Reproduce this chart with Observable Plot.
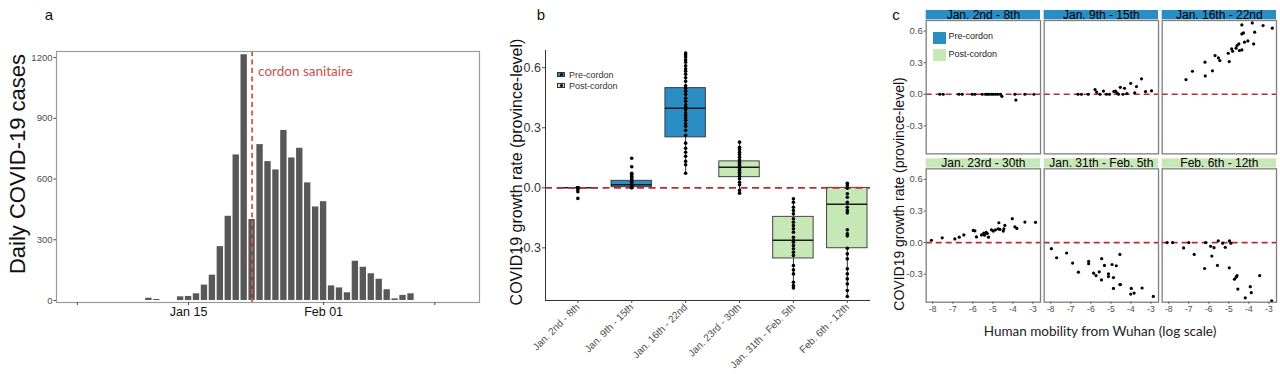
<!DOCTYPE html>
<html><head><meta charset="utf-8">
<script src="https://cdn.jsdelivr.net/npm/d3@7"></script>
<script src="https://cdn.jsdelivr.net/npm/@observablehq/plot@0.6"></script>
<style>
html,body{margin:0;padding:0;background:#fff;}
#root{position:relative;width:1280px;height:374px;overflow:hidden;font-family:"Liberation Sans",Arial,sans-serif;}
.panel{position:absolute;top:0;}
.lbl{position:absolute;white-space:nowrap;line-height:1;color:#111;}
.rot{transform:translate(-50%,-50%) rotate(-90deg);}
.ctr{transform:translate(-50%,-50%);}
</style></head><body><div id="root"></div><script>
// ---------- Panel a data ----------
const caseDates = ["2020-01-10","2020-01-11","2020-01-14","2020-01-15","2020-01-16","2020-01-17","2020-01-18","2020-01-19","2020-01-20","2020-01-21","2020-01-22","2020-01-23","2020-01-24","2020-01-25","2020-01-26","2020-01-27","2020-01-28","2020-01-29","2020-01-30","2020-01-31","2020-02-01","2020-02-02","2020-02-03","2020-02-04","2020-02-05","2020-02-06","2020-02-07","2020-02-08","2020-02-09","2020-02-10","2020-02-11","2020-02-12"];
const caseCounts = [11,5,18,20,33,76,125,266,416,719,1214,400,770,686,645,840,704,752,581,462,488,72,62,38,194,164,132,105,53,8,25,33];
const cordonDate = "2020-01-23";
const cordonLabel = "cordon sanitaire";
const cordonLabelLevel = 1130;
const caseTickDates = ["2020-01-01","2020-01-15","2020-02-01","2020-02-15"];
const caseTickLabels = ["","Jan 15","Feb 01",""];
const caseYTicks = [0,300,600,900,1200];

// ---------- Panel b data ----------
const periods = ["Jan. 2nd - 8th","Jan. 9th - 15th","Jan. 16th - 22nd","Jan. 23rd - 30th","Jan. 31th - Feb. 5th","Feb. 6th - 12th"];
const periodGroup = ["Pre-cordon","Pre-cordon","Pre-cordon","Post-cordon","Post-cordon","Post-cordon"];
const boxQ1 = [0,0.003,0.252,0.053,-0.353,-0.302];
const boxMedian = [0,0.015,0.397,0.103,-0.262,-0.082];
const boxQ3 = [0,0.035,0.498,0.132,-0.145,0.0];
const boxLow = [0,0,0.073,-0.027,-0.5,-0.543];
const boxHigh = [0,0.073,0.673,0.228,-0.055,0.023];
const rates1 = [0,0,0,0,0,0,-0.01,-0.02,-0.053];
const rates2 = [0.148,0.105,0.073,0.067,0.058,0.05,0.042,0.033,0.025,0.017,0.01,0.003,0,0];
const rates3 = [0.673,0.665,0.653,0.64,0.627,0.61,0.595,0.582,0.567,0.55,0.532,0.51,0.497,0.483,0.467,0.448,0.432,0.415,0.403,0.39,0.375,0.362,0.35,0.337,0.32,0.307,0.287,0.262,0.223,0.198,0.178,0.158,0.133,0.115,0.073];
const rates4 = [0.228,0.203,0.192,0.178,0.167,0.153,0.14,0.128,0.12,0.112,0.103,0.095,0.087,0.078,0.07,0.058,0.045,0.028,0.015,-0.013,-0.027];
const rates5 = [-0.055,-0.072,-0.097,-0.113,-0.13,-0.155,-0.172,-0.188,-0.205,-0.222,-0.247,-0.263,-0.272,-0.288,-0.305,-0.322,-0.338,-0.388,-0.41,-0.43,-0.472,-0.488,-0.5];
const rates6 = [0.023,0.012,-0.002,-0.03,-0.047,-0.072,-0.097,-0.113,-0.125,-0.21,-0.23,-0.24,-0.302,-0.33,-0.355,-0.405,-0.43,-0.455,-0.48,-0.513,-0.543];
const rateTicks = [-0.3,0,0.3,0.6];

// ---------- Panel c data ----------
const mobility1 = [-7.65,-7.48,-6.7,-6.53,-6.03,-5.9,-5.53,-5.37,-5.28,-5.2,-5.08,-4.98,-4.87,-4.75,-4.62,-4.55,-3.9,-3.85,-3.4,-2.95];
const growth1 = [0,0,0,0,0,0,0,0,0,0,0,0,0,0,0,-0.02,0,-0.055,0,0];
const mobility2 = [-6.64,-6.47,-6.13,-5.79,-5.71,-5.54,-5.37,-5.22,-5.07,-4.85,-4.77,-4.7,-4.62,-4.53,-4.4,-4.32,-4.2,-4.01,-3.81,-3.72,-3.47,-3.27,-2.97];
const growth2 = [0,0,0,0.044,0.02,0,0.03,0,0,0.025,0.03,0.013,0,0.066,0,0.057,0.006,0.104,0.013,0.073,0.146,0.025,0.032];
const mobility3 = [-7.14,-6.82,-6.19,-6.18,-5.82,-5.69,-5.52,-5.45,-5.03,-4.98,-4.86,-4.81,-4.64,-4.59,-4.5,-4.47,-4.35,-4.35,-4.35,-4.27,-4.22,-4.05,-3.83,-3.76,-3.71,-3.29,-2.83];
const growth3 = [0.139,0.218,0.304,0.174,0.222,0.367,0.345,0.32,0.389,0.31,0.43,0.408,0.437,0.462,0.478,0.415,0.421,0.573,0.658,0.582,0.494,0.506,0.677,0.478,0.589,0.652,0.627];
const mobility4 = [-8.07,-7.53,-6.9,-6.68,-6.45,-5.98,-5.9,-5.82,-5.57,-5.45,-5.42,-5.33,-5.28,-5.22,-5.07,-4.98,-4.87,-4.73,-4.7,-4.65,-4.48,-4.45,-4.4,-4.03,-3.9,-3.8,-3.4,-2.87];
const growth4 = [0.022,0.045,0.035,0.051,0.073,0.115,0.112,0.054,0.073,0.089,0.07,0.096,0.086,0.051,0.121,0.109,0.121,0.131,0.188,0.125,0.109,0.131,0.163,0.227,0.15,0.134,0.195,0.192];
const mobility5 = [-7.97,-7.71,-7.21,-6.91,-6.62,-6.11,-6.11,-5.86,-5.74,-5.58,-5.47,-5.46,-5.32,-5.12,-5.12,-4.94,-4.87,-4.87,-4.73,-4.55,-4.52,-4.55,-3.98,-4.01,-3.84,-3.44,-2.88];
const growth5 = [-0.058,-0.144,-0.099,-0.195,-0.281,-0.179,-0.201,-0.29,-0.313,-0.278,-0.355,-0.153,-0.217,-0.323,-0.297,-0.208,-0.332,-0.435,-0.22,-0.399,-0.399,-0.112,-0.435,-0.489,-0.479,-0.431,-0.511];
const mobility6 = [-8.08,-7.81,-7.26,-7.0,-6.73,-6.21,-6.16,-5.91,-5.85,-5.74,-5.57,-5.53,-5.31,-5.18,-4.98,-4.97,-4.9,-4.72,-4.64,-4.59,-4.55,-4.18,-3.93,-3.88,-3.46,-2.86];
const growth6 = [0,0,-0.051,0,-0.112,-0.246,0,-0.035,-0.128,-0.048,-0.217,0.016,-0.006,-0.045,-0.24,0.016,-0.006,-0.348,-0.329,-0.313,-0.441,-0.524,-0.419,-0.476,-0.313,-0.553];
const mobilityTicks = [-8,-7,-6,-5,-4,-3];
const legendLabels = ["Pre-cordon","Post-cordon"];

// ---------- styling ----------
const BLUE = "#2a8dc4", GREEN = "#c6e8b6", RED_A = "#d9534f", RED = "#be2a33";
const groupColor = {"Pre-cordon": BLUE, "Post-cordon": GREEN};
const root = document.getElementById("root");
const utc = s => new Date(s + "T00:00:00Z");
const DAY = 864e5;

function place(el, left) { el.classList.add("panel"); el.style.left = left + "px"; root.appendChild(el); }
function label(text, x, y, css, cls) {
  const d = document.createElement("div");
  d.className = "lbl " + (cls || "");
  d.textContent = text;
  d.style.left = x + "px"; d.style.top = y + "px";
  Object.assign(d.style, css || {});
  root.appendChild(d);
  return d;
}

// ---------- Panel a ----------
const cases = caseDates.map((d, i) => ({date: utc(d), count: caseCounts[i]}));
const tickMap = new Map(caseTickDates.map((d, i) => [+utc(d), caseTickLabels[i]]));
const chartA = Plot.plot({
  width: 480, height: 374,
  marginLeft: 56, marginRight: 1, marginTop: 51, marginBottom: 72,
  style: {fontFamily: '"Liberation Sans", Arial, sans-serif', color: "#4d4d4d", background: "transparent", overflow: "visible"},
  x: {type: "utc", domain: [new Date(Date.UTC(2019, 11, 29, 9)), new Date(Date.UTC(2020, 1, 20, 15))]},
  y: {domain: [-10, 1230]},
  marks: [
    Plot.rectY(cases, {x1: d => new Date(+d.date - 0.4 * DAY), x2: d => new Date(+d.date + 0.4 * DAY), y: "count", fill: "#585858"}),
    Plot.ruleX([utc(cordonDate)], {stroke: RED_A, strokeDasharray: "5,3.5", strokeWidth: 1.8}),
    Plot.text([cordonLabel], {x: utc(cordonDate), y: cordonLabelLevel, text: d => d, dx: 6, textAnchor: "start", fill: "#c8514b", fontFamily: "Lato, 'Open Sans', sans-serif", fontSize: 13.5}),
    Plot.frame({stroke: "#9a9a9a", strokeWidth: 1.2}),
    Plot.axisY({ticks: caseYTicks, tickFormat: d => String(d), tickSize: 2.5, tickPadding: 1.5, fontSize: 9.5, label: null}),
    Plot.axisX({ticks: caseTickDates.map(utc), tickFormat: d => tickMap.get(+d) ?? "", tickSize: 3, tickPadding: 1.5, fontSize: 12.5, fill: "#111", label: null})
  ]
});
place(chartA, 0);

// ---------- Panel b ----------
const boxes = periods.map((p, i) => ({i, group: periodGroup[i], q1: boxQ1[i], med: boxMedian[i], q3: boxQ3[i], lo: boxLow[i], hi: boxHigh[i]}));
const ratePoints = [rates1, rates2, rates3, rates4, rates5, rates6].flatMap((arr, i) => arr.map(v => ({i, v})));
const bx = [-0.6, 5.43], by = [-0.563, 0.686], half = 0.375;
const chartB = Plot.plot({
  width: 390, height: 374,
  marginLeft: 55, marginRight: 10, marginTop: 50, marginBottom: 74,
  style: {fontFamily: '"Liberation Sans", Arial, sans-serif', color: "#4d4d4d", background: "transparent", overflow: "visible"},
  x: {domain: bx}, y: {domain: by},
  color: {type: "identity"},
  marks: [
    Plot.ruleX(boxes, {x: "i", y1: "lo", y2: "q1", stroke: "#333", strokeWidth: 1}),
    Plot.ruleX(boxes, {x: "i", y1: "q3", y2: "hi", stroke: "#333", strokeWidth: 1}),
    Plot.rect(boxes, {x1: d => d.i - half, x2: d => d.i + half, y1: "q1", y2: "q3", fill: d => groupColor[d.group], stroke: "#333", strokeWidth: 0.9}),
    Plot.ruleY(boxes, {x1: d => d.i - half, x2: d => d.i + half, y: "med", stroke: "#1a1a1a", strokeWidth: 1.5}),
    Plot.ruleY([0], {x1: bx[0], x2: bx[1], stroke: RED, strokeDasharray: "7,4.5", strokeWidth: 1.8}),
    Plot.dot(ratePoints, {x: "i", y: "v", r: 1.8, fill: "#000"}),
    Plot.ruleX([bx[0]], {stroke: "#333", strokeWidth: 1}),
    Plot.ruleY([by[0]], {stroke: "#333", strokeWidth: 1}),
    Plot.axisY({ticks: rateTicks, tickFormat: d => d.toFixed(1), tickSize: 3, tickPadding: 1.5, fontSize: 12.5, fill: "#333", label: null}),
    Plot.axisX({ticks: d3.range(periods.length), tickFormat: i => periods[i], tickRotate: -45, tickSize: 3, tickPadding: 2, fontSize: 10, label: null})
  ]
});
place(chartB, 490);

// ---------- Panel c ----------
const mobs = [mobility1, mobility2, mobility3, mobility4, mobility5, mobility6];
const grows = [growth1, growth2, growth3, growth4, growth5, growth6];
const cPoints = mobs.flatMap((xs, k) => xs.map((x, j) => ({col: k % 3, row: Math.floor(k / 3), x, y: grows[k][j]})));
const strips = periods.map((p, k) => ({label: p, col: k % 3, row: Math.floor(k / 3), color: groupColor[periodGroup[k]]}));
const cTop = 20, cBottom = 72.3, cH = 374, fyPad = 0.101;
const cAvail = cH - cTop - cBottom;
const panelH = cAvail / (2 - fyPad) * (1 - fyPad);
const chartC = Plot.plot({
  width: 400, height: cH,
  marginLeft: 45.7, marginRight: 4, marginTop: cTop, marginBottom: cBottom,
  style: {fontFamily: '"Liberation Sans", Arial, sans-serif', color: "#4d4d4d", background: "transparent", overflow: "visible"},
  fx: {domain: [0, 1, 2], axis: null, paddingInner: 0.031, paddingOuter: 0, round: false},
  fy: {domain: [0, 1], axis: null, paddingInner: fyPad, paddingOuter: 0, round: false},
  x: {domain: [-8.33, -2.62]}, y: {domain: [-0.566, 0.70]},
  color: {type: "identity"},
  marks: [
    Plot.rect(strips, {fx: "col", fy: "row", fill: "color", insetTop: -10, insetBottom: panelH + 0.7}),
    Plot.text(strips, {fx: "col", fy: "row", text: "label", frameAnchor: "top", lineAnchor: "middle", dy: -5.2, fontSize: 12, fill: "#000"}),
    Plot.ruleY([0], {stroke: RED, strokeDasharray: "6,4", strokeWidth: 1.6}),
    Plot.dot(cPoints, {fx: "col", fy: "row", x: "x", y: "y", r: 1.6, fill: "#000"}),
    Plot.frame({stroke: "#7f7f7f", strokeWidth: 1.3}),
    Plot.axisY({ticks: rateTicks, tickFormat: d => d.toFixed(1), tickSize: 2, tickPadding: 1.5, fontSize: 9.5, label: null}),
    Plot.axisX({ticks: mobilityTicks, tickFormat: d => String(d), tickSize: 2, tickPadding: 1.5, fontSize: 8.5, label: null})
  ]
});
place(chartC, 880);

// ---------- titles, letters, legends ----------
label("a", 49, 14, {fontSize: "15px"}, "ctr");
label("b", 541, 14, {fontSize: "15px"}, "ctr");
label("c", 896, 14, {fontSize: "15px"}, "ctr");
label("Daily COVID-19 cases", 18, 164, {fontSize: "22px"}, "rot");
label("COVID19 growth rate (province-level)", 517, 172, {fontSize: "16px", fontFamily: '"Liberation Sans Narrow", "Liberation Sans", Arial, sans-serif'}, "rot");
label("COVID19 growth rate (province-level)", 899, 194, {fontSize: "14px", fontFamily: '"Liberation Sans Narrow", "Liberation Sans", Arial, sans-serif'}, "rot");
label("Human mobility from Wuhan (log scale)", 1100, 332, {fontSize: "13.5px", fontFamily: "Lato, 'Open Sans', sans-serif", color: "#222"}, "ctr");

// panel b legend
legendLabels.forEach((t, k) => {
  const y = 74.5 + k * 11;
  const key = document.createElement("div");
  Object.assign(key.style, {position: "absolute", left: "557px", top: (y - 3) + "px", width: "8px", height: "5px", background: groupColor[t], border: "0.8px solid #333", boxSizing: "border-box"});
  const dot = document.createElement("div");
  Object.assign(dot.style, {position: "absolute", left: "2px", top: "0.2px", width: "3px", height: "3px", borderRadius: "50%", background: "#000"});
  key.appendChild(dot);
  root.appendChild(key);
  label(t, 569, y, {fontSize: "9px", color: "#333", transform: "translateY(-50%)"});
});
// panel c legend
legendLabels.forEach((t, k) => {
  const y = 37.5 + k * 17.5;
  const key = document.createElement("div");
  Object.assign(key.style, {position: "absolute", left: "933px", top: (y - 6) + "px", width: "12.5px", height: "12px", background: groupColor[t]});
  root.appendChild(key);
  label(t, 948.5, y - 1.5, {fontSize: "9px", color: "#222", transform: "translateY(-50%)"});
});
</script></body></html>
